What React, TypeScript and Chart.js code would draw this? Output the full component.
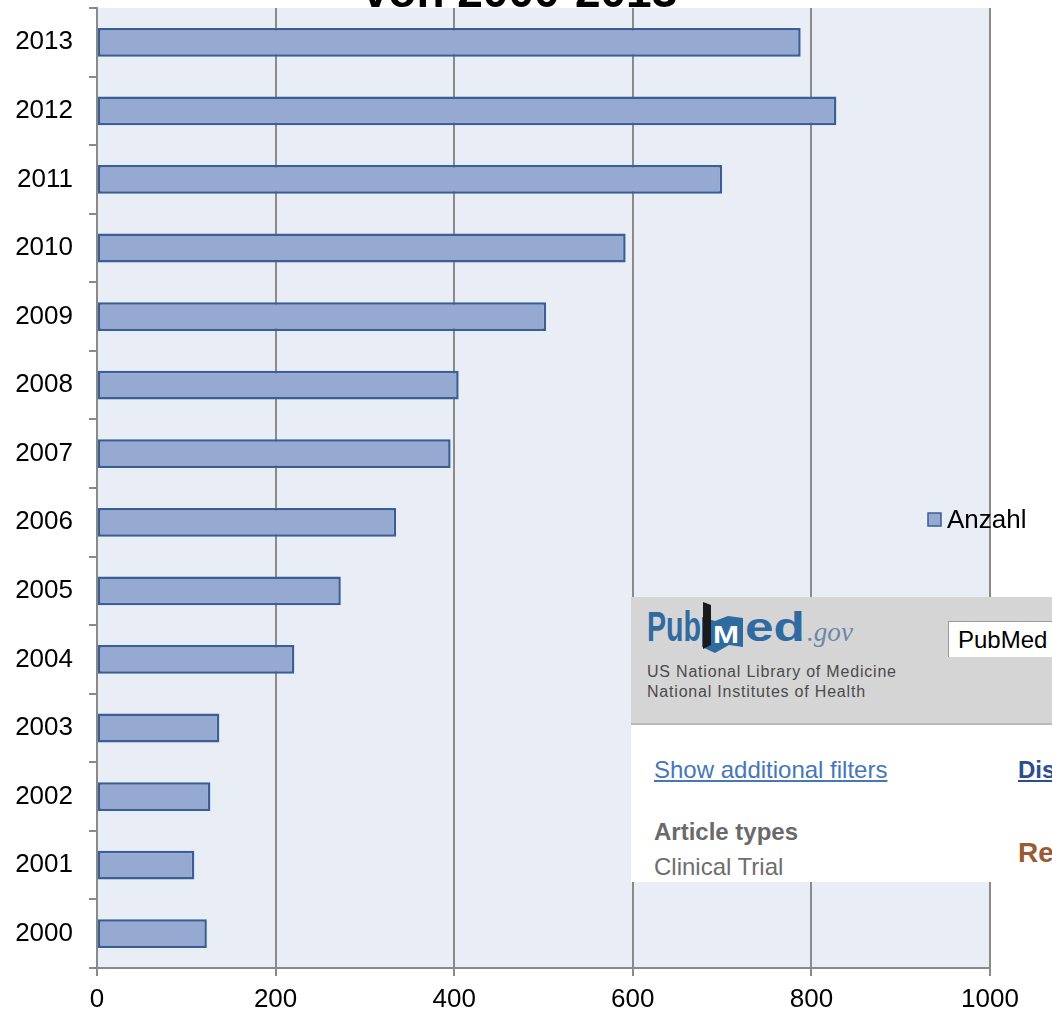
import React, { useEffect, useRef } from "react";
import { Chart, registerables } from "chart.js";

Chart.register(...registerables);

// Publications per year
const years = ["2000", "2001", "2002", "2003", "2004", "2005", "2006", "2007", "2008", "2009", "2010", "2011", "2012", "2013"];
const counts = [123, 109, 127, 137, 221, 273, 335, 396, 405, 503, 592, 700, 828, 788];
const xTicks = [0, 200, 400, 600, 800, 1000];
const seriesName = "Anzahl";
const titleText = "von 2000-2013";

const FONT = "'Liberation Sans', Arial, Helvetica, sans-serif";
const PLOT_BG = "#e9edf5";
const BAR_FILL = "#95a9d1";
const BAR_EDGE = "#3a5f96";
const GRID = "#8a8a8a";

const plotBackground = {
  id: "plotBackground",
  beforeDraw(chart: any) {
    const { ctx, chartArea } = chart;
    ctx.save();
    ctx.fillStyle = PLOT_BG;
    ctx.fillRect(chartArea.left, chartArea.top, chartArea.right - chartArea.left, chartArea.bottom - chartArea.top);
    ctx.restore();
  },
};

const titleAndLegend = {
  id: "titleAndLegend",
  afterDraw(chart: any) {
    const { ctx } = chart;
    ctx.save();
    // title line sitting on the top edge of the plot
    ctx.font = `bold 46px ${FONT}`;
    ctx.fillStyle = "#000";
    ctx.textAlign = "center";
    ctx.textBaseline = "alphabetic";
    ctx.fillText(titleText, 520, 7);

    // legend entry
    const ds = chart.data.datasets[0];
    ctx.fillStyle = ds.backgroundColor;
    ctx.fillRect(928, 513, 13, 13);
    ctx.strokeStyle = ds.borderColor;
    ctx.lineWidth = 1.5;
    ctx.strokeRect(928, 513, 13, 13);
    ctx.fillStyle = "#000";
    ctx.font = `26px ${FONT}`;
    ctx.textAlign = "left";
    ctx.textBaseline = "middle";
    ctx.fillText(ds.label, 947, 521);
    ctx.restore();
  },
};

function PubMedPanel() {
  const base: React.CSSProperties = { position: "absolute", whiteSpace: "nowrap", fontFamily: FONT };
  return (
    <div
      style={{
        position: "absolute",
        left: 631,
        top: 597,
        width: 421,
        height: 285,
        overflow: "hidden",
        background: "#ffffff",
      }}
    >
      <div
        style={{
          position: "absolute",
          left: 0,
          top: 0,
          width: 421,
          height: 126,
          background: "#d5d5d5",
          borderBottom: "2px solid #b9b9b9",
        }}
      >
        <svg width={230} height={60} style={{ position: "absolute", left: 14, top: 2 }}>
          <text x={2} y={42} fontFamily={FONT} fontWeight="bold" fontSize={42} fill="#2f6aa1" textLength={54} lengthAdjust="spacingAndGlyphs">
            Pub
          </text>
          <path d="M57 18 L70 22 L83 17 L98 19 L98 48 L84 46 L70 54 L57 48 Z" fill="#2f6aa1" />
          <path d="M58 3 L66 6 L66 46 L58 50 Z" fill="#1a1a1a" />
          <text x={68} y={44} fontFamily={FONT} fontWeight="bold" fontSize={24} fill="#ffffff" textLength={26} lengthAdjust="spacingAndGlyphs">
            M
          </text>
          <text x={100} y={42} fontFamily={FONT} fontWeight="bold" fontSize={40} fill="#2f6aa1" textLength={60} lengthAdjust="spacingAndGlyphs">
            ed
          </text>
          <text x={162} y={42} fontFamily="'Liberation Serif', 'DejaVu Serif', serif" fontStyle="italic" fontSize={28} fill="#6d87a8" textLength={46} lengthAdjust="spacingAndGlyphs">
            .gov
          </text>
        </svg>
        <div style={{ ...base, left: 16, top: 66, fontSize: 16, letterSpacing: 0.8, color: "#4a4a4a" }}>
          US National Library of Medicine
        </div>
        <div style={{ ...base, left: 16, top: 86, fontSize: 16, letterSpacing: 0.8, color: "#4a4a4a" }}>
          National Institutes of Health
        </div>
        <div
          style={{
            position: "absolute",
            left: 317,
            top: 24,
            width: 130,
            height: 35,
            background: "#ffffff",
            borderTop: "1px solid #9a9a9a",
            borderLeft: "1px solid #9a9a9a",
          }}
        >
          <div style={{ ...base, left: 9, top: 4, fontSize: 24, color: "#000" }}>PubMed</div>
        </div>
      </div>
      <div style={{ ...base, left: 23, top: 159, fontSize: 24, color: "#4677b8", textDecoration: "underline" }}>
        Show additional filters
      </div>
      <div style={{ ...base, left: 387, top: 159, fontSize: 24, fontWeight: "bold", color: "#2c4d8e", textDecoration: "underline" }}>
        Display
      </div>
      <div style={{ ...base, left: 23, top: 221, fontSize: 24, fontWeight: "bold", color: "#6a6a6a" }}>Article types</div>
      <div style={{ ...base, left: 23, top: 256, fontSize: 24, color: "#6e6e6e" }}>Clinical Trial</div>
      <div style={{ ...base, left: 387, top: 240, fontSize: 28, fontWeight: "bold", color: "#9a5a33" }}>Results</div>
    </div>
  );
}

export default function App() {
  const canvasRef = useRef<HTMLCanvasElement | null>(null);

  useEffect(() => {
    if (!canvasRef.current) return;
    const chart = new Chart(canvasRef.current, {
      type: "bar",
      data: {
        labels: years,
        datasets: [
          {
            label: seriesName,
            data: counts,
            backgroundColor: BAR_FILL,
            borderColor: BAR_EDGE,
            borderWidth: 2.5,
            borderSkipped: false,
            categoryPercentage: 1,
            barPercentage: 0.42,
          },
        ],
      },
      options: {
        indexAxis: "y",
        responsive: false,
        animation: false,
        layout: { padding: { top: 8, right: 62, left: 0, bottom: 0 } },
        plugins: {
          legend: { display: false },
          title: { display: false },
          tooltip: { enabled: false },
        },
        scales: {
          x: {
            type: "linear",
            min: 0,
            max: 1000,
            afterBuildTicks: (scale: any) => {
              scale.ticks = xTicks.map((v) => ({ value: v }));
            },
            afterFit: (scale: any) => {
              scale.height = 45;
            },
            grid: {
              color: GRID,
              lineWidth: 2,
              drawTicks: true,
              tickLength: 8,
            },
            border: { display: true, color: GRID, width: 2 },
            ticks: {
              color: "#000",
              padding: 8,
              maxRotation: 0,
              callback: (v: any) => String(v),
              font: { family: FONT, size: 26 },
            },
          },
          y: {
            reverse: true,
            afterFit: (scale: any) => {
              scale.width = 97;
              // the category labels sit inside their bands, so no extra room above/below
              scale.paddingTop = 0;
              scale.paddingBottom = 0;
            },
            grid: {
              offset: true,
              drawOnChartArea: false,
              drawTicks: true,
              tickLength: 8,
              color: GRID,
              lineWidth: 2,
            },
            border: { display: true, color: GRID, width: 2 },
            ticks: {
              color: "#000",
              padding: 16,
              font: { family: FONT, size: 26 },
            },
          },
        },
      },
      plugins: [plotBackground, titleAndLegend],
    });
    return () => chart.destroy();
  }, []);

  return (
    <div style={{ position: "absolute", left: 0, top: 0, width: 1052, height: 1013, background: "#fff", overflow: "hidden" }}>
      <canvas ref={canvasRef} width={1052} height={1013} style={{ display: "block" }} />
      <PubMedPanel />
    </div>
  );
}
